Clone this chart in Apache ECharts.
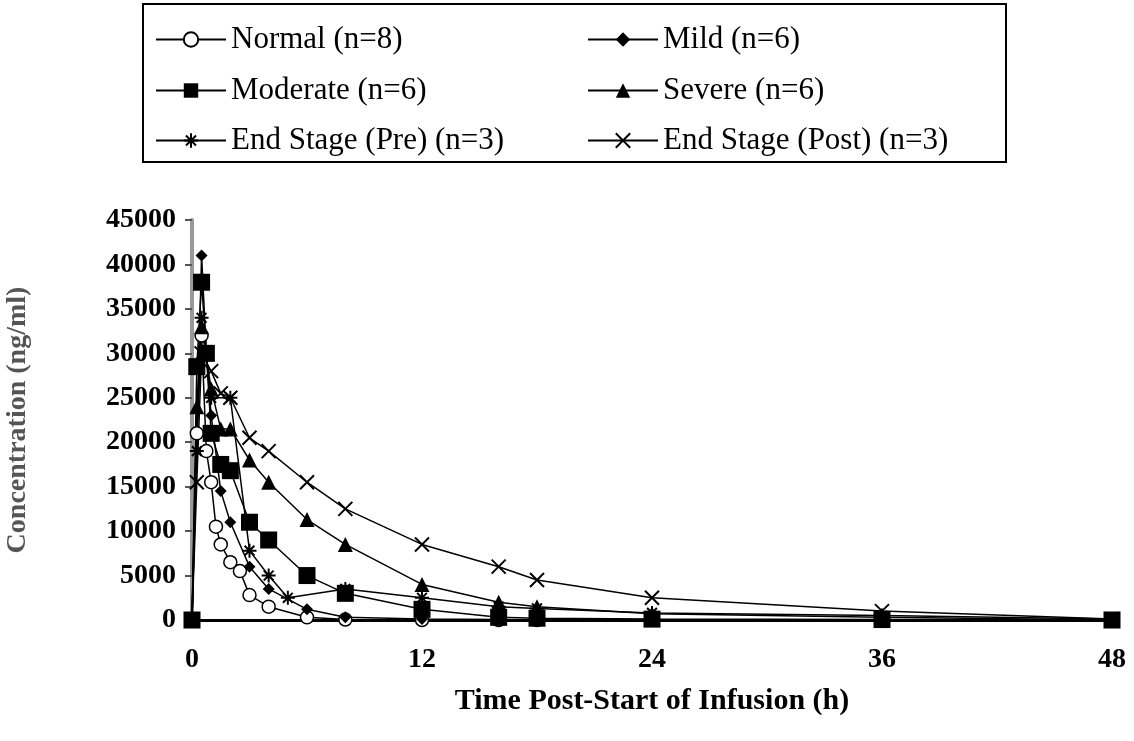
<!DOCTYPE html>
<html>
<head>
<meta charset="utf-8">
<script src="https://cdn.jsdelivr.net/npm/echarts@6/dist/echarts.min.js"></script>
<style>html,body{margin:0;width:100%;height:100%;background:#fff}#main{width:1134px;height:741px}</style>
</head>
<body>
<div id="main"></div>
<script>
var names = ['Normal (n=8)', 'Mild (n=6)', 'Moderate (n=6)', 'Severe (n=6)', 'End Stage (Pre) (n=3)', 'End Stage (Post) (n=3)'];
var normal = [[0,0],[0.25,21000],[0.5,32000],[0.75,19000],[1,15500],[1.25,10500],[1.5,8500],[2,6500],[2.5,5500],[3,2800],[4,1500],[6,300],[8,50],[12,0],[16,0],[18,0]];
var mild = [[0,0],[0.5,41000],[0.75,30000],[1,23000],[1.5,14500],[2,11000],[3,6000],[4,3500],[6,1200],[8,300],[12,100],[16,50],[18,0],[24,0]];
var moderate = [[0,0],[0.25,28500],[0.5,38000],[0.75,30000],[1,21000],[1.5,17500],[2,16800],[3,11000],[4,9000],[6,5000],[8,3000],[12,1200],[16,300],[18,200],[24,100],[36,50],[48,0]];
var severe = [[0,0],[0.25,24000],[0.5,33000],[1,26000],[1.5,21500],[2,21500],[3,18000],[4,15500],[6,11300],[8,8500],[12,4000],[16,2000],[18,1500],[24,700],[36,300],[48,0]];
var esPre = [[0,0],[0.25,19000],[0.5,34000],[1,25000],[2,25000],[3,7800],[4,5000],[5,2500],[8,3500],[12,2500],[16,1500],[18,1300],[24,800],[36,500],[48,100]];
var esPost = [[0,0],[0.25,15500],[0.5,30000],[1,28000],[1.5,25500],[2,25000],[3,20500],[4,19000],[6,15500],[8,12500],[12,8500],[16,6000],[18,4500],[24,2500],[36,1000],[48,100]];

var star = 'path://M0,-10L0,10M-10,0L10,0M-7,-7L7,7M-7,7L7,-7';
var cross = 'path://M-8,-8L8,8M-8,8L8,-8';
var diamond = 'path://M0,-10L10,0L0,10L-10,0Z';
var styles = [
  {data: normal, symbol: 'circle', size: 13, fill: '#fff', line: 1.5},
  {data: mild, symbol: diamond, size: 12, fill: '#000', line: 0},
  {data: moderate, symbol: 'rect', size: 17, fill: '#000', line: 0},
  {data: severe, symbol: 'triangle', size: 15, fill: '#000', line: 0},
  {data: esPre, symbol: star, size: 14, fill: 'none', line: 2},
  {data: esPost, symbol: cross, size: 14, fill: 'none', line: 2}
];

var series = styles.map(function (s, i) {
  return {
    name: names[i], type: 'line', data: s.data,
    symbol: s.symbol, symbolSize: s.size, showAllSymbol: true,
    lineStyle: {color: '#000', width: 1.5},
    itemStyle: {color: s.fill, borderColor: '#000', borderWidth: s.line}
  };
});

var legPos = [[150,19],[582,19],[150,70],[582,70],[150,120],[582,120]];
var legends = names.map(function (n, i) {
  return {
    data: [n], left: legPos[i][0], top: legPos[i][1], itemWidth: 70, itemHeight: 18, itemGap: 0,
    textStyle: {fontFamily: 'Liberation Serif', fontSize: 31, color: '#000'}
  };
});

var chart = echarts.init(document.getElementById('main'));
chart.setOption({
  animation: false,
  legend: legends,
  graphic: [{type: 'rect', shape: {x: 143, y: 4, width: 863, height: 158}, style: {fill: 'none', stroke: '#000', lineWidth: 2}}],
  grid: {left: 192, right: 22, top: 220, bottom: 121, containLabel: false, outerBoundsMode: 'none'},
  xAxis: {
    type: 'value', min: 0, max: 48, interval: 12,
    name: 'Time Post-Start of Infusion (h)', nameLocation: 'middle', nameGap: 66,
    nameTextStyle: {fontFamily: 'Liberation Serif', fontWeight: 'bold', fontSize: 30, color: '#000'},
    axisLine: {lineStyle: {color: '#000', width: 3}},
    axisTick: {show: false},
    axisLabel: {fontFamily: 'Liberation Serif', fontWeight: 'bold', fontSize: 28, color: '#000', margin: 26},
    splitLine: {show: false}
  },
  yAxis: {
    type: 'value', min: 0, max: 45000, interval: 5000,
    name: 'Concentration (ng/ml)', nameLocation: 'middle', nameGap: 160,
    nameTextStyle: {fontFamily: 'Liberation Serif', fontWeight: 'bold', fontSize: 28, color: '#555'},
    axisLine: {lineStyle: {color: '#999', width: 4}},
    axisTick: {show: true, length: 7, lineStyle: {color: '#555', width: 2}},
    axisLabel: {fontFamily: 'Liberation Serif', fontWeight: 'bold', fontSize: 28, color: '#000', margin: 16,
      formatter: function (v) { return String(v); }},
    splitLine: {show: false}
  },
  series: series
});
</script>
</body>
</html>
